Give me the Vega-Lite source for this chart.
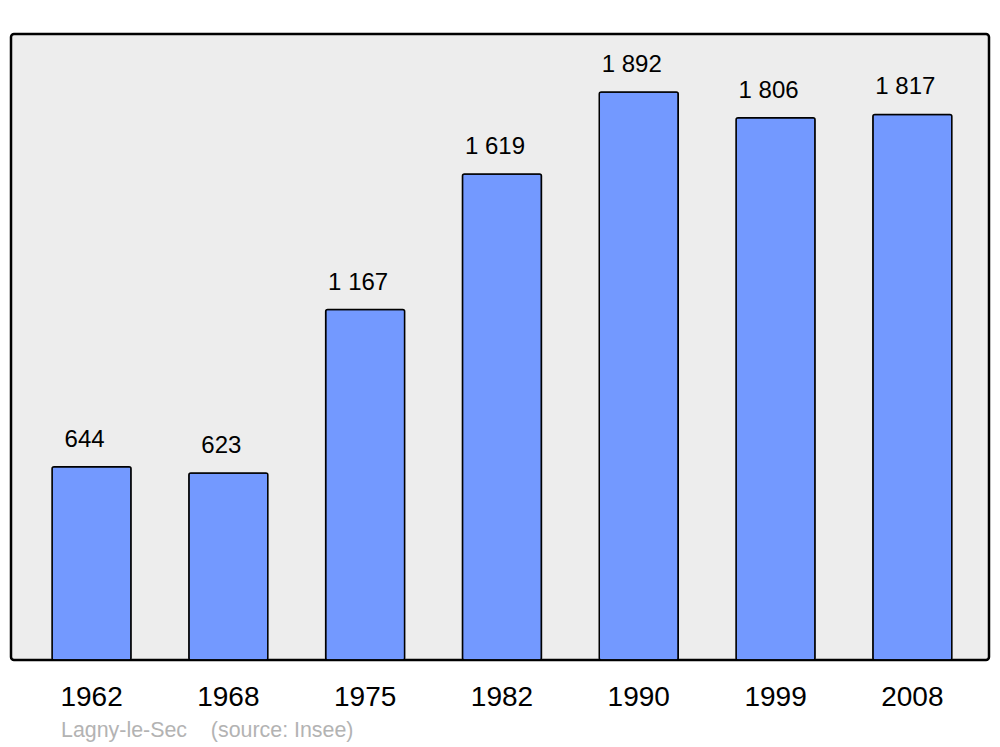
{
  "$schema": "https://vega.github.io/schema/vega-lite/v6.json",
  "autosize": {"type": "none"},
  "padding": {"left": 11, "top": 34, "right": 11, "bottom": 87},
  "width": 978,
  "height": 626,
  "background": "#ffffff",
  "config": {
    "font": "Liberation Sans",
    "locale": {"number": {"decimal": ",", "thousands": "\u00a0", "grouping": [3], "currency": ["", "€"]}},
    "view": {"fill": "#ededed", "stroke": "#000000", "strokeWidth": 2.5, "cornerRadius": 3}
  },
  "title": {
    "text": "Lagny-le-Sec\u00a0\u00a0\u00a0\u00a0(source: Insee)",
    "orient": "bottom",
    "anchor": "start",
    "dx": 50,
    "offset": 9,
    "color": "#b3b3b3",
    "fontSize": 21.4,
    "fontWeight": "normal",
    "font": "Liberation Sans"
  },
  "data": {
    "values": [
      {"year": "1962", "population": 644},
      {"year": "1968", "population": 623},
      {"year": "1975", "population": 1167},
      {"year": "1982", "population": 1619},
      {"year": "1990", "population": 1892},
      {"year": "1999", "population": 1806},
      {"year": "2008", "population": 1817}
    ]
  },
  "encoding": {
    "x": {
      "field": "year",
      "type": "nominal",
      "sort": null,
      "scale": {"paddingInner": 0.4225, "paddingOuter": 0.2858, "align": 0.525},
      "axis": {
        "title": null,
        "domain": false,
        "ticks": false,
        "labelAngle": 0,
        "labelFontSize": 28,
        "labelColor": "#000000",
        "labelPadding": 23,
        "grid": false
      }
    },
    "y": {
      "field": "population",
      "type": "quantitative",
      "scale": {"domain": [0, 2085], "nice": false, "zero": true},
      "axis": null
    }
  },
  "layer": [
    {
      "mark": {"type": "bar", "fill": "#7399ff", "stroke": "#000000", "strokeWidth": 1.5, "cornerRadius": 2}
    },
    {
      "mark": {"type": "text", "baseline": "alphabetic", "dy": -20, "dx": -7, "fontSize": 24, "color": "#000000"},
      "encoding": {
        "text": {"field": "population", "type": "quantitative", "format": ",d"}
      }
    }
  ]
}
